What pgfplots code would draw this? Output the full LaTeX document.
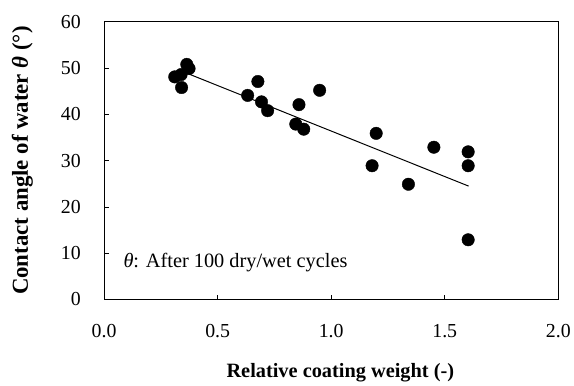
\documentclass[border=0pt]{standalone}
\usepackage{fontspec}
\setmainfont{Liberation Serif}
\usepackage{pgfplots}
\pgfplotsset{compat=1.18}

\begin{document}
\begin{tikzpicture}
\begin{axis}[
scale only axis,
width=458bp,height=280bp,
at={(0,0)},anchor=south west,
xmin=0,xmax=2,
ymin=0,ymax=60,
xtick={0,0.5,1,1.5,2},
ytick={0,10,20,30,40,50,60},
xtick pos=left,ytick pos=left,
tick align=inside,
major tick length=5bp,
axis line style={line width=1pt},
tick style={line width=0.8pt,black},
/pgf/number format/assume math mode=true,
xticklabel={\pgfmathprintnumber[fixed,fixed zerofill,precision=1]{\tick}},
tick label style={font=\fontsize{20bp}{24bp}\selectfont},
yticklabel style={xshift=-20bp},
xticklabel style={yshift=-22bp},
xlabel={\bfseries Relative coating weight (-)},
ylabel={\bfseries Contact angle of water {\itshape θ} (°)},
xlabel style={font=\fontsize{20.5bp}{24bp}\selectfont,at={(axis description cs:0.52,-0.265)},anchor=center},
ylabel style={font=\fontsize{23bp}{26bp}\selectfont,at={(axis description cs:-0.18,0.5)},anchor=center,rotate=0},
clip=false,
]
% measured points
\addplot[only marks,mark=*,mark size=6.3bp,black] coordinates {
(0.311,48.1)
(0.339,48.6)
(0.364,50.8)
(0.374,49.9)
(0.341,45.8)
(0.632,44.1)
(0.677,47.1)
(0.693,42.7)
(0.720,40.8)
(0.949,45.2)
(0.858,42.1)
(0.844,37.9)
(0.879,36.8)
(1.198,35.9)
(1.180,28.9)
(1.452,32.9)
(1.340,24.9)
(1.603,31.9)
(1.603,28.9)
(1.603,12.9)
};
% regression line
\addplot[black,line width=1pt] coordinates {(0.364,48.9) (1.605,24.5)};
\node[anchor=west,font=\fontsize{20.5bp}{24bp}\selectfont] at (axis cs:0.07,7.9) {{\itshape θ}: After 100 dry/wet cycles};
\end{axis}
\path (-105bp,-81bp) rectangle (469bp,302bp);
\end{tikzpicture}
\end{document}
